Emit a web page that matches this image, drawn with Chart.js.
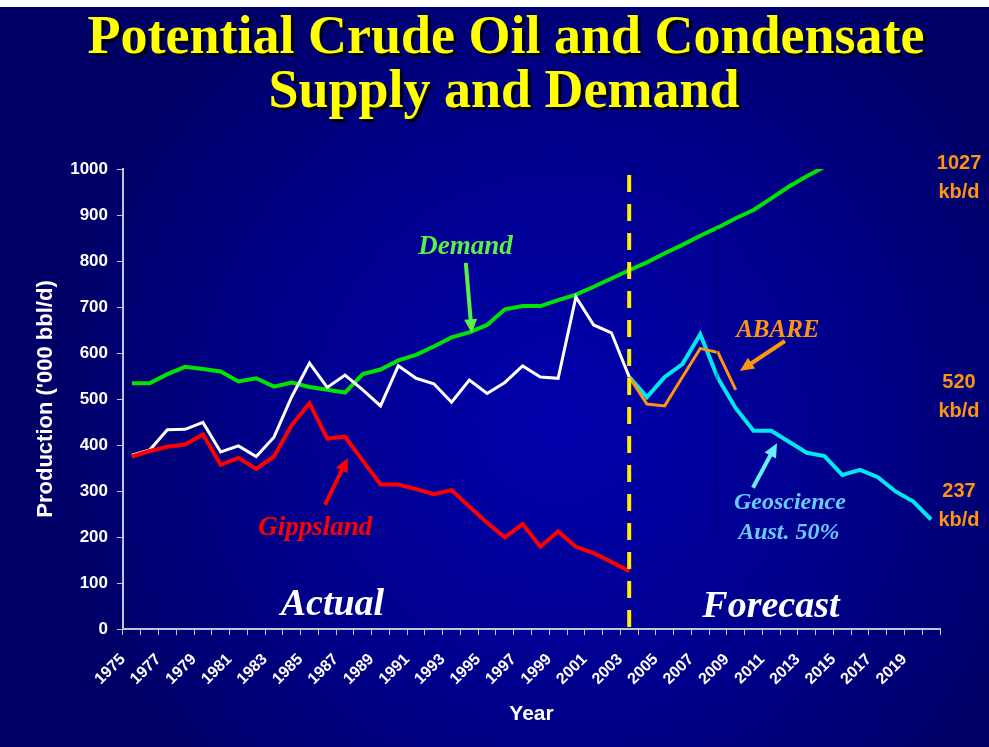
<!DOCTYPE html>
<html>
<head>
<meta charset="utf-8">
<title>Potential Crude Oil and Condensate Supply and Demand</title>
<script src="https://cdn.jsdelivr.net/npm/chart.js@4.4.1/dist/chart.umd.min.js"></script>
<style>
  html, body { margin: 0; padding: 0; background: #000066; }
  #wrap { width: 989px; height: 747px; }
</style>
</head>
<body>
<div id="wrap"><canvas id="chart" width="989" height="747"></canvas></div>
<script>
// category axis: one slot per year, labels shown every other year
const years = [
    "1975", "1976", "1977", "1978", "1979", "1980", "1981", "1982", "1983", "1984",
    "1985", "1986", "1987", "1988", "1989", "1990", "1991", "1992", "1993", "1994",
    "1995", "1996", "1997", "1998", "1999", "2000", "2001", "2002", "2003", "2004",
    "2005", "2006", "2007", "2008", "2009", "2010", "2011", "2012", "2013", "2014",
    "2015", "2016", "2017", "2018", "2019", "2020",
];
const yTicks = [0, 100, 200, 300, 400, 500, 600, 700, 800, 900, 1000];

// actual, 1975-2003
const gippsland = [375, 387, 396, 401, 423, 357, 372, 348, 375, 443, 491, 414, 418, 366, 314,
    314, 304, 293, 302, 266, 231, 199, 228, 179, 212, 179, 165, 146, 126];
const production = [378, 389, 433, 434, 449, 385, 398, 375, 417, 505, 578, 525, 552, 520, 485,
    572, 545, 533, 493, 541, 512, 536, 572, 548, 545, 722, 661, 644, 548];
// demand, 1975-2014 (runs off the top after that)
const demand = [534, 534, 554, 570, 565, 560, 538, 545, 527, 536, 526, 520, 514, 554, 564,
    584, 596, 614, 634, 645, 661, 695, 702, 702, 715, 727, 744, 762, 780, 797,
    817, 835, 855, 873, 893, 911, 936, 962, 984, 1005];
// forecasts, starting 2003
const forecastStart = "2003";
const abare = [548, 489, 485, 548, 610, 601, 520];
const geoscience = [548, 504, 548, 576, 641, 545, 480, 431, 431, 407, 383, 376, 335, 346, 330, 299, 277, 238];

const SERIF = "'Liberation Serif', 'Times New Roman', serif";
const SANS = "'Liberation Sans', Arial, sans-serif";
const AXIS = "#c4c4d4";

const fromYear = (start, values) => {
    const offset = years.indexOf(start);
    return years.map((_, i) => (i >= offset && i - offset < values.length ? values[i - offset] : null));
};

const drawArrow = (ctx, x1, y1, x2, y2, color) => {
    const angle = Math.atan2(y2 - y1, x2 - x1);
    const head = 14;
    const half = 6.5;
    ctx.save();
    ctx.strokeStyle = color;
    ctx.fillStyle = color;
    ctx.lineWidth = 4;
    ctx.beginPath();
    ctx.moveTo(x1, y1);
    ctx.lineTo(x2 - Math.cos(angle) * head * 0.8, y2 - Math.sin(angle) * head * 0.8);
    ctx.stroke();
    ctx.beginPath();
    ctx.moveTo(x2, y2);
    ctx.lineTo(x2 - head * Math.cos(angle) + half * Math.sin(angle), y2 - head * Math.sin(angle) - half * Math.cos(angle));
    ctx.lineTo(x2 - head * Math.cos(angle) - half * Math.sin(angle), y2 - head * Math.sin(angle) + half * Math.cos(angle));
    ctx.closePath();
    ctx.fill();
    ctx.restore();
};

const decorations = {
    id: "decorations",
    beforeDraw(chart) {
        const { ctx, width, height } = chart;
        ctx.save();
        const g = ctx.createRadialGradient(560, 420, 0, 560, 420, 520);
        g.addColorStop(0, "#0000ac");
        g.addColorStop(0.55, "#00008c");
        g.addColorStop(1, "#000066");
        ctx.fillStyle = g;
        ctx.fillRect(0, 0, width, height);
        ctx.fillStyle = "#ffffff";
        ctx.fillRect(0, 0, width, 7);
        ctx.restore();
    },
    afterDatasetsDraw(chart) {
        const { ctx } = chart;
        const x = chart.scales.x;
        const y = chart.scales.y;
        const at = (i, v) => [x.getPixelForValue(i), y.getPixelForValue(v)];

        // faint separator where the forecasts join
        ctx.save();
        const [sx, sTop] = at(33, 870);
        const [, sBot] = at(33, 200);
        ctx.strokeStyle = "rgba(0, 0, 60, 0.35)";
        ctx.lineWidth = 1.5;
        ctx.beginPath();
        ctx.moveTo(sx - 1, sTop);
        ctx.lineTo(sx - 1, sBot);
        ctx.stroke();

        // actual / forecast divider
        const [dx, dTop] = at(years.indexOf(forecastStart), 987);
        ctx.strokeStyle = "#ffee00";
        ctx.lineWidth = 4;
        ctx.setLineDash([17, 12]);
        ctx.beginPath();
        ctx.moveTo(dx, dTop);
        ctx.lineTo(dx, y.getPixelForValue(0));
        ctx.stroke();
        ctx.restore();
    },
    afterDraw(chart) {
        const { ctx } = chart;
        const x = chart.scales.x;
        const y = chart.scales.y;
        const at = (i, v) => [x.getPixelForValue(i), y.getPixelForValue(v)];
        const text = (str, pos, font, color, baseline = "alphabetic") => {
            ctx.font = font;
            ctx.fillStyle = color;
            ctx.textAlign = "center";
            ctx.textBaseline = baseline;
            ctx.fillText(str, pos[0], pos[1]);
        };

        ctx.save();
        // title with drop shadow
        ctx.shadowColor = "rgba(0, 0, 0, 0.9)";
        ctx.shadowOffsetX = 3;
        ctx.shadowOffsetY = 3;
        ctx.shadowBlur = 1;
        text("Potential Crude Oil and Condensate", [506, 53], `bold 54px ${SERIF}`, "#ffff00");
        text("Supply and Demand", [504, 107], `bold 54px ${SERIF}`, "#ffff00");
        ctx.shadowColor = "transparent";

        const italic = (size) => `italic bold ${size}px ${SERIF}`;
        text("Demand", at(18.78, 815), italic(27), "#5cf044");
        drawArrow(ctx, ...at(18.8, 796), ...at(19.14, 643), "#5cf044");

        text("Gippsland", at(10.33, 204), italic(27), "#ff0000");
        drawArrow(ctx, ...at(10.87, 270), ...at(12.16, 372), "#ff0000");

        text("ABARE", at(36.37, 635), italic(25), "#ff9410");
        drawArrow(ctx, ...at(36.77, 626), ...at(34.23, 561), "#ff9410");

        text("Geoscience", at(37.05, 261), italic(24), "#66ccff");
        text("Aust. 50%", at(36.99, 196), italic(24), "#66ccff");
        drawArrow(ctx, ...at(34.97, 307), ...at(36.32, 404), "#66eeff");

        text("Actual", at(11.29, 30), italic(38), "#ffffff");
        text("Forecast", at(35.98, 26), italic(38), "#ffffff");

        const sans = `bold 20px ${SANS}`;
        text("1027", at(46.57, 1013), sans, "#ff9410", "middle");
        text("kb/d", at(46.57, 950), sans, "#ff9410", "middle");
        text("520", at(46.57, 535), sans, "#ff9410", "middle");
        text("kb/d", at(46.57, 472), sans, "#ff9410", "middle");
        text("237", at(46.57, 298), sans, "#ff9410", "middle");
        text("kb/d", at(46.57, 235), sans, "#ff9410", "middle");
        ctx.restore();
    },
};

const line = (label, data, color, width) => ({
    label,
    data,
    borderColor: color,
    borderWidth: width,
    pointRadius: 0,
    tension: 0,
    spanGaps: false,
    fill: false,
});

new Chart(document.getElementById("chart"), {
    type: "line",
    data: {
        labels: years,
        datasets: [
            line("Gippsland", gippsland, "#ff0000", 4),
            line("Production", production, "#ffffff", 3),
            line("Demand", demand, "#00e400", 4),
            line("ABARE", fromYear(forecastStart, abare), "#ff9410", 3),
            line("Geoscience Aust. 50%", fromYear(forecastStart, geoscience), "#00e8f0", 4),
        ],
    },
    options: {
        responsive: false,
        animation: false,
        events: [],
        layout: { padding: { top: 169, right: 49, bottom: 0, left: 0 } },
        plugins: {
            legend: { display: false },
            tooltip: { enabled: false },
            title: { display: false },
        },
        scales: {
            x: {
                type: "category",
                offset: true,
                afterFit: (scale) => { scale.height = 118; },
                grid: { display: true, drawOnChartArea: false, offset: true, color: AXIS, tickLength: 6 },
                border: { color: AXIS, width: 2 },
                ticks: {
                    color: "#ffffff",
                    font: { family: SANS, size: 16, weight: "bold" },
                    autoSkip: false,
                    maxRotation: 45,
                    minRotation: 45,
                    padding: 15,
                    labelOffset: -9,
                    callback: (value, index) => (index % 2 === 0 ? years[index] : ""),
                },
                title: {
                    display: true,
                    text: "Year",
                    color: "#ffffff",
                    font: { family: SANS, size: 21, weight: "bold" },
                    padding: { top: 0, bottom: 20 },
                },
            },
            y: {
                min: 0,
                max: 1000,
                afterFit: (scale) => { scale.width = 123; },
                afterBuildTicks: (scale) => { scale.ticks = yTicks.map((v) => ({ value: v })); },
                grid: { display: true, drawOnChartArea: false, color: AXIS, tickLength: 6 },
                border: { color: AXIS, width: 2 },
                ticks: {
                    color: "#ffffff",
                    font: { family: SANS, size: 17, weight: "bold" },
                    padding: 9,
                    callback: (value) => String(value),
                },
                title: {
                    display: true,
                    text: "Production ('000 bbl/d)",
                    color: "#ffffff",
                    font: { family: SANS, size: 22, weight: "bold" },
                    padding: { top: 33, bottom: 0 },
                },
            },
        },
    },
    plugins: [decorations],
});
</script>
</body>
</html>
